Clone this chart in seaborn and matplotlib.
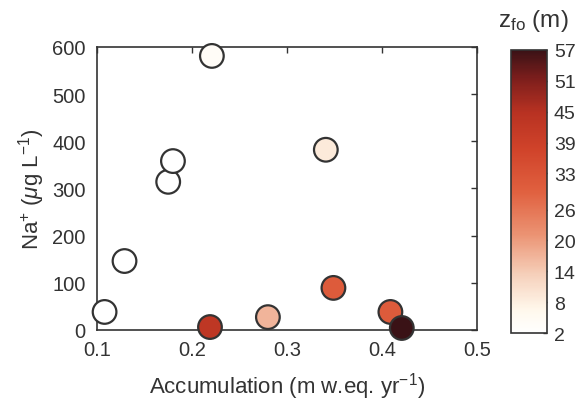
import numpy as np
import pandas as pd
import matplotlib
matplotlib.use("Agg")
import matplotlib.pyplot as plt
import seaborn as sns
from matplotlib.colors import LinearSegmentedColormap, Normalize
from matplotlib.cm import ScalarMappable

accumulation = [0.108, 0.129, 0.175, 0.180, 0.221, 0.219, 0.280, 0.341, 0.349, 0.409, 0.421]
sodium = [38, 146, 314, 358, 581, 6, 27, 382, 89, 38, 4]
z_fo = [2, 2, 2, 2, 4, 43, 17, 9, 31, 31, 57]
cbar_ticks = [2, 8, 14, 20, 26, 33, 39, 45, 51, 57]

sns.set_style("white")
plt.rcParams['font.family'] = ['Liberation Sans', 'DejaVu Sans']
plt.rcParams['mathtext.fontset'] = 'custom'
plt.rcParams['mathtext.rm'] = 'Liberation Sans'
plt.rcParams['mathtext.it'] = 'Liberation Sans:italic'

cmap = LinearSegmentedColormap.from_list("zfo", [
    (0.0, "#ffffff"), (0.08, "#fff8ec"), (0.2, "#f6d2bd"), (0.35, "#eb9272"),
    (0.5, "#e0603f"), (0.65, "#d0432a"), (0.78, "#b83222"), (0.9, "#7c1e1c"),
    (1.0, "#3a1216")])
norm = Normalize(vmin=2, vmax=57)

df = pd.DataFrame({"acc": accumulation, "na": sodium, "z": z_fo})

fig = plt.figure(figsize=(5.79, 4.10), dpi=100)
ax = fig.add_axes([0.1675, 0.193, 0.656, 0.690])
sns.scatterplot(data=df, x="acc", y="na", hue="z", palette=cmap, hue_norm=norm,
                s=290, edgecolor="#333333", linewidth=1.6, legend=False, ax=ax,
                clip_on=False, zorder=3)
ax.set_xlim(0.1, 0.5)
ax.set_ylim(0, 600)
ax.set_xticks([0.1, 0.2, 0.3, 0.4, 0.5])
ax.set_xticklabels(["0.1", "0.2", "0.3", "0.4", "0.5"])
ax.set_yticks([0, 100, 200, 300, 400, 500, 600])
ax.tick_params(direction="in", length=4, width=1, top=True, right=True,
               labelsize=14.5, colors="#333333", labelcolor="#333333")
ax.tick_params(axis="x", pad=7)
ax.tick_params(axis="y", pad=8)
for sp in ax.spines.values():
    sp.set_color("#333333")
    sp.set_linewidth(1.2)
ax.set_xlabel("Accumulation (m w.eq. yr$^{-1}$)", fontsize=16, color="#333333", labelpad=8)
ax.set_ylabel("Na$^{+}$ ($\\mu$g L$^{-1}$)", fontsize=16, color="#333333", labelpad=4)

cax = fig.add_axes([0.8825, 0.185, 0.062, 0.691])
cb = fig.colorbar(ScalarMappable(norm=norm, cmap=cmap), cax=cax)
cb.set_ticks(cbar_ticks)
cb.ax.tick_params(direction="in", length=3, width=1, labelsize=14,
                  colors="#333333", labelcolor="#333333", pad=5)
cb.outline.set_edgecolor("#333333")
cb.outline.set_linewidth(1.2)
fig.text(533 / 579, 1 - 27 / 410, "z$_{\\mathrm{fo}}$ (m)", fontsize=17.5,
         color="#333333", ha="center", va="baseline")

fig.savefig("out.png", dpi=100)
